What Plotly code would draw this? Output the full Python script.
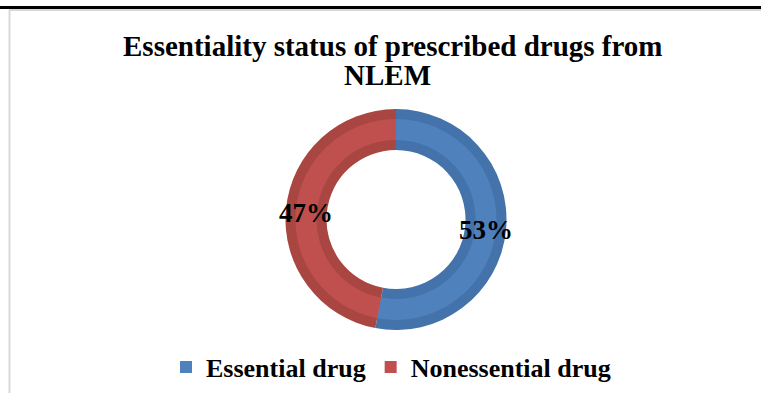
import math
import plotly.graph_objects as go

# Share of prescribed drugs by NLEM essentiality status
categories = ["Essential drug", "Nonessential drug"]
shares = [53, 47]
title_lines = ["Essentiality status of prescribed drugs from", "NLEM"]

fill_colors = ["#4F81BD", "#C0504D"]
edge_colors = ["#4472AA", "#A94642"]

W, H = 761, 397
cx, cy = 396, 219.5          # ring centre in pixels (from top-left)
r_outer, r_inner = 110.5, 69.5
r_band_out, r_band_in = 100.5, 79.5
r_label = 90

def domain(r):
    return dict(
        x=[(cx - r) / W, (cx + r) / W],
        y=[(H - cy - r) / H, (H - cy + r) / H],
    )

serif = "Liberation Serif, Times New Roman, serif"

fig = go.Figure()

# darker full ring (bevelled edge)
fig.add_trace(go.Pie(
    labels=categories, values=shares, sort=False, direction="clockwise",
    hole=r_inner / r_outer, domain=domain(r_outer),
    marker=dict(colors=edge_colors, line=dict(width=0)),
    textinfo="none", hoverinfo="skip", showlegend=False,
))

# lighter inner band, also feeding the legend
fig.add_trace(go.Pie(
    labels=categories, values=shares, sort=False, direction="clockwise",
    hole=r_band_in / r_band_out, domain=domain(r_band_out),
    marker=dict(colors=fill_colors, line=dict(width=0)),
    textinfo="none", hoverinfo="skip", showlegend=True,
))

# percentage labels at each slice's mid-angle on the ring centre line
annotations = []
total = sum(shares)
cum = 0
for v in shares:
    mid = (cum + v / 2) / total * 2 * math.pi
    cum += v
    px = cx + r_label * math.sin(mid)
    py = cy - r_label * math.cos(mid)
    annotations.append(dict(
        xref="paper", yref="paper", x=px / W, y=1 - py / H,
        xanchor="center", yanchor="middle", yshift=-2,
        text=f"<b>{round(v / total * 100)}%</b>", showarrow=False,
        font=dict(family=serif, size=27, color="black"),
    ))

# two-line chart heading
for text, xc, yc in [(title_lines[0], 392, 46), (title_lines[1], 387, 75)]:
    annotations.append(dict(
        xref="paper", yref="paper", x=xc / W, y=1 - yc / H,
        xanchor="center", yanchor="middle",
        text=f"<b>{text}</b>", showarrow=False,
        font=dict(family=serif, size=29, color="black"),
    ))

fig.update_layout(
    width=W, height=H,
    margin=dict(l=0, r=0, t=0, b=0),
    paper_bgcolor="white", plot_bgcolor="white",
    annotations=annotations,
    legend=dict(
        orientation="h", x=391 / W, xanchor="center",
        y=1 - 367 / H, yanchor="middle",
        font=dict(family=serif, size=26, color="black", weight="bold"),
        itemwidth=30, traceorder="normal",
    ),
    shapes=[
        dict(type="line", xref="paper", yref="paper", x0=0, x1=1,
             y0=1 - 7.5 / H, y1=1 - 7.5 / H, line=dict(color="black", width=3)),
        dict(type="line", xref="paper", yref="paper", x0=9 / W, x1=1,
             y0=1 - 10 / H, y1=1 - 10 / H, line=dict(color="#D9D9D9", width=2)),
        dict(type="line", xref="paper", yref="paper", x0=9.5 / W, x1=9.5 / W,
             y0=1 - 10 / H, y1=1 - 393 / H, line=dict(color="#D9D9D9", width=2)),
    ],
)

fig.write_html("out.html")
